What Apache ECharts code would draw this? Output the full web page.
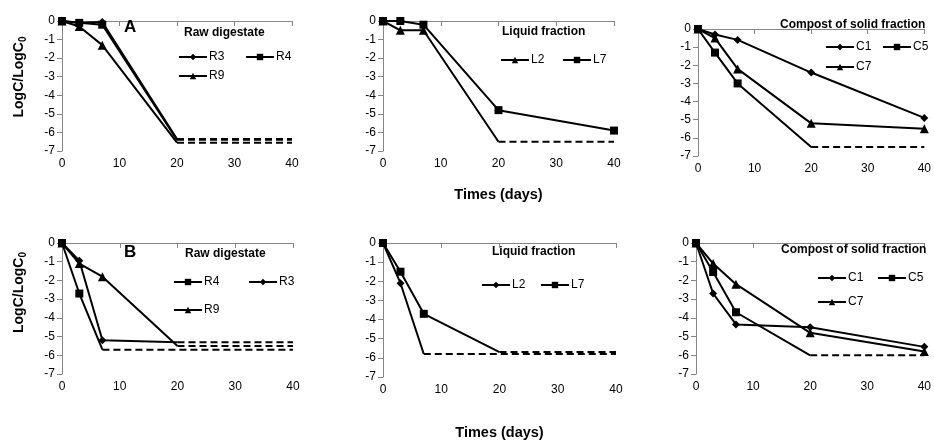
<!DOCTYPE html>
<html>
<head>
<meta charset="utf-8">
<script src="https://cdn.jsdelivr.net/npm/echarts@6/dist/echarts.min.js"></script>
<style>
  html, body { margin: 0; padding: 0; background: #fff; }
  #chart { width: 934px; height: 441px; }
</style>
</head>
<body>
<div id="chart"></div>
<script>
const FONT = "'Liberation Sans', Arial, sans-serif";

// sampling days
const DAYS = [0, 3, 7, 20, 40];

// A – raw digestate (null = not measured / below limit)
const A_R3 = [0, -0.1, -0.05, null, null];
const A_R4 = [0, -0.1, -0.2, null, null];
const A_R9 = [0, -0.3, -1.3, null, null];
// detection limit reached: [day, level]; dashed from there to the last day
const A_R3_LIM = [20, -6.35];
const A_R4_LIM = [20, -6.4];
const A_R9_LIM = [20, -6.55];

// A – liquid fraction
const A_L2 = [0, -0.5, -0.5, null, null];
const A_L7 = [0, 0, -0.2, -4.8, -5.9];
const A_L2_LIM = [20, -6.5];

// A – compost of solid fraction
const A_C1 = [0, -0.3, -0.6, -2.4, -4.9];
const A_C5 = [0, -1.3, -3.0, null, null];
const A_C7 = [0, -0.5, -2.2, -5.2, -5.5];
const A_C5_LIM = [20, -6.5];

// B – raw digestate
const B_R4 = [0, -2.7, null, null, null];
const B_R3 = [0, -0.95, -5.2, null, null];
const B_R9 = [0, -1.1, -1.8, null, null];
const B_R4_LIM = [7, -5.7];
const B_R3_LIM = [20, -5.3];
const B_R9_LIM = [20, -5.5];

// B – liquid fraction
const B_L2 = [0, -2.1, null, null, null];
const B_L7 = [0, -1.5, -3.7, null, null];
const B_L2_LIM = [7, -5.8];
const B_L7_LIM = [20, -5.7];

// B – compost of solid fraction
const B_C1 = [0, -2.7, -4.35, -4.5, -5.55];
const B_C5 = [0, -1.55, -3.7, null, null];
const B_C7 = [0, -1.1, -2.2, -4.8, -5.8];
const B_C5_LIM = [20, -6.0];

const X_TICKS = [0, 40, 10];   // min, max, interval
const Y_TICKS = [-7, 0, 1];

const SYM = { diamond: ['diamond', 8], square: ['rect', 8], triangle: ['triangle', 9] };

// legend items: [name, x of line start, y of row centre]
const panels = [
  { id: 'A1', grid: { left: 62, top: 21, width: 230, height: 130 },
    title: 'Raw digestate', titlePos: [184, 27], tag: 'A', tagPos: [124, 19],
    yName: 18,
    series: [['R3', A_R3, A_R3_LIM, 'diamond'], ['R4', A_R4, A_R4_LIM, 'square'], ['R9', A_R9, A_R9_LIM, 'triangle']],
    legends: [['R3', 178, 58], ['R4', 245, 58], ['R9', 178, 77]] },
  { id: 'A2', grid: { left: 383, top: 21, width: 231, height: 130 },
    title: 'Liquid fraction', titlePos: [502, 26], xName: 36,
    series: [['L2', A_L2, A_L2_LIM, 'triangle'], ['L7', A_L7, null, 'square']],
    legends: [['L2', 500, 61], ['L7', 562, 61]] },
  { id: 'A3', grid: { left: 698, top: 29, width: 228, height: 127 },
    title: 'Compost of solid fraction', titlePos: [780, 19],
    series: [['C1', A_C1, null, 'diamond'], ['C5', A_C5, A_C5_LIM, 'square'], ['C7', A_C7, null, 'triangle']],
    legends: [['C1', 825, 48], ['C5', 882, 48], ['C7', 825, 68]] },
  { id: 'B1', grid: { left: 62, top: 243, width: 231, height: 131 },
    title: 'Raw digestate', titlePos: [185, 248], tag: 'B', tagPos: [124, 244],
    yName: 32,
    series: [['R4', B_R4, B_R4_LIM, 'square'], ['R3', B_R3, B_R3_LIM, 'diamond'], ['R9', B_R9, B_R9_LIM, 'triangle']],
    legends: [['R4', 173, 283], ['R3', 248, 283], ['R9', 173, 311]] },
  { id: 'B2', grid: { left: 383, top: 243, width: 233, height: 135 },
    title: 'Liquid fraction', titlePos: [492, 246], xName: 48,
    series: [['L2', B_L2, B_L2_LIM, 'diamond'], ['L7', B_L7, B_L7_LIM, 'square']],
    legends: [['L2', 481, 286], ['L7', 540, 286]] },
  { id: 'B3', grid: { left: 696, top: 243, width: 231, height: 131 },
    title: 'Compost of solid fraction', titlePos: [781, 244],
    series: [['C1', B_C1, null, 'diamond'], ['C5', B_C5, B_C5_LIM, 'square'], ['C7', B_C7, null, 'triangle']],
    legends: [['C1', 817, 279], ['C5', 877, 279], ['C7', 817, 303]] },
];

function solidData(vals, lim) {
  const d = [];
  vals.forEach((v, i) => { if (v !== null) d.push([DAYS[i], v]); });
  if (lim) d.push({ value: lim, symbol: 'none' });
  return d;
}

const grid = [], xAxis = [], yAxis = [], series = [], legend = [], title = [];
const axisCommon = {
  axisLine: { show: true, lineStyle: { color: '#868686', width: 1 } },
  axisTick: { lineStyle: { color: '#868686' }, length: 5 },
  splitLine: { show: false },
  axisLabel: { color: '#000', fontFamily: FONT, fontSize: 12, margin: 7 },
};

panels.forEach((p, gi) => {
  grid.push(p.grid);
  xAxis.push({
    ...axisCommon, type: 'value', gridIndex: gi,
    min: X_TICKS[0], max: X_TICKS[1], interval: X_TICKS[2],
    name: p.xName ? 'Times (days)' : '', nameLocation: 'middle', nameGap: p.xName || 0,
    nameTextStyle: { fontFamily: FONT, fontSize: 14.5, fontWeight: 'bold', color: '#000' },
  });
  yAxis.push({
    ...axisCommon, type: 'value', gridIndex: gi,
    min: Y_TICKS[0], max: Y_TICKS[1], interval: Y_TICKS[2],
    name: p.yName ? '{a|LogC/LogC}{s|0}' : '', nameLocation: 'middle', nameGap: 34,
    nameTextStyle: {
      color: '#000',
      // left padding pushes the rotated title upwards, as in the reference
      padding: [0, 0, 0, p.yName || 0],
      rich: {
        a: { fontFamily: FONT, fontSize: 14, fontWeight: 'bold', color: '#000' },
        s: { fontFamily: FONT, fontSize: 10, fontWeight: 'bold', color: '#000', padding: [7, 0, 0, 0] },
      },
    },
  });
  title.push({
    text: p.title, left: p.titlePos[0], top: p.titlePos[1], padding: 0,
    textStyle: { fontFamily: FONT, fontSize: 12, fontWeight: 'bold', color: '#000' },
  });
  if (p.tag) {
    title.push({
      text: p.tag, left: p.tagPos[0], top: p.tagPos[1], padding: 0,
      textStyle: { fontFamily: FONT, fontSize: 17, fontWeight: 'bold', color: '#000' },
    });
  }
  p.series.forEach(([name, vals, lim, sym]) => {
    const [symbol, size] = SYM[sym];
    series.push({
      name: p.id + ':' + name, type: 'line', xAxisIndex: gi, yAxisIndex: gi,
      data: solidData(vals, lim), symbol, symbolSize: size, showSymbol: true,
      lineStyle: { color: '#000', width: 2 }, itemStyle: { color: '#000' },
      animation: false, z: 3,
    });
    if (lim) {
      series.push({
        name: p.id + ':' + name + ':lim', type: 'line', xAxisIndex: gi, yAxisIndex: gi,
        data: [lim, [DAYS[DAYS.length - 1], lim[1]]], symbol: 'none',
        lineStyle: { color: '#000', width: 2, type: [7, 4] },
        animation: false, z: 2,
      });
    }
  });
  // one legend component per item so each sits where the reference puts it
  p.legends.forEach(([name, left, cy]) => {
    legend.push({
      data: [p.id + ':' + name], left, top: cy - 7, padding: 0,
      itemWidth: 28, itemHeight: 8, selectedMode: false,
      formatter: (n) => n.split(':')[1],
      textStyle: { fontFamily: FONT, fontSize: 12, color: '#000', padding: [0, 0, 0, -3] },
    });
  });
});

const chart = echarts.init(document.getElementById('chart'));
chart.setOption({ animation: false, title, grid, xAxis, yAxis, legend, series });
</script>
</body>
</html>
